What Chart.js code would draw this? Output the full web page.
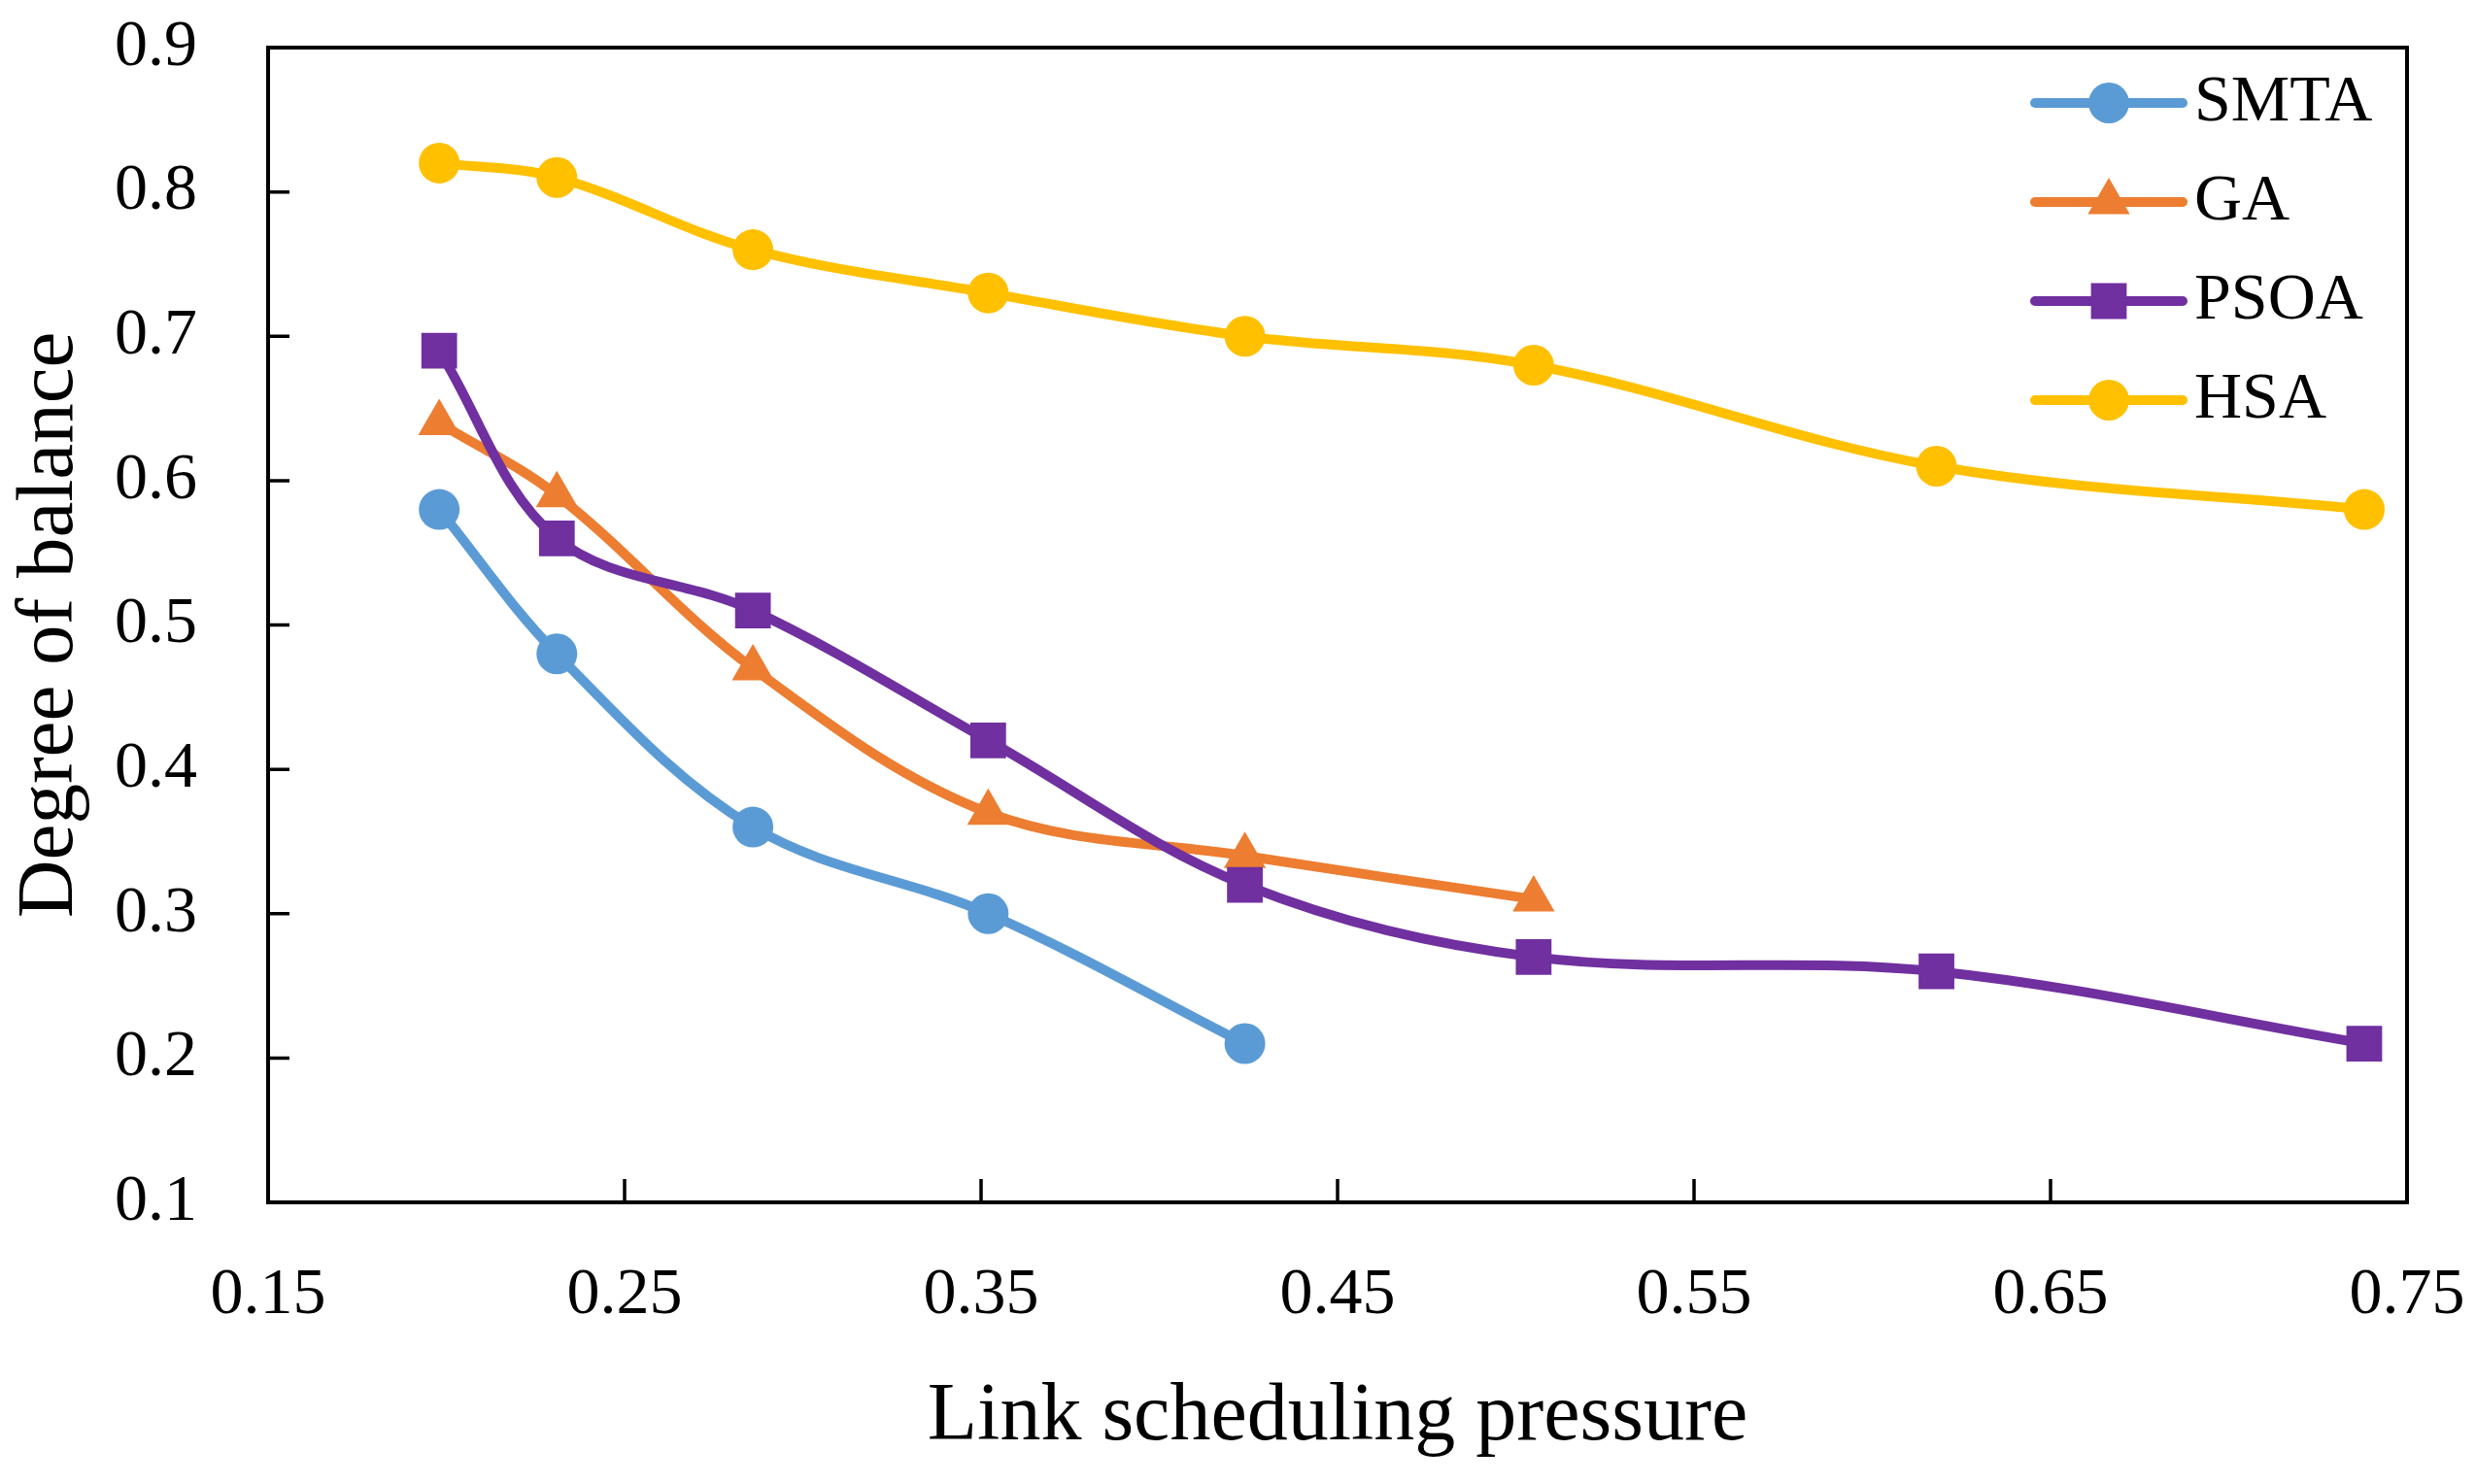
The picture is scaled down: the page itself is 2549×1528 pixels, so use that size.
<!DOCTYPE html>
<html>
<head>
<meta charset="utf-8">
<title>Degree of balance vs link scheduling pressure</title>
<script src="https://cdn.jsdelivr.net/npm/chart.js@4.4.1/dist/chart.umd.min.js"></script>
<style>
  html, body { margin: 0; padding: 0; background: #fff; }
  #wrap { width: 2549px; height: 1528px; }
</style>
</head>
<body>
<div id="wrap"><canvas id="balanceChart"></canvas></div>
<script>
// x positions shared by all series
const pressure = [0.198, 0.231, 0.286, 0.352, 0.424, 0.505, 0.618, 0.738];

const smta = [0.58, 0.48, 0.36, 0.30, 0.21];
const ga   = [0.64, 0.59, 0.47, 0.37, 0.34, 0.31];
const psoa = [0.69, 0.56, 0.51, 0.42, 0.32, 0.27, 0.26, 0.21];
const hsa  = [0.82, 0.81, 0.76, 0.73, 0.70, 0.68, 0.61, 0.58];

const xTickValues = [0.15, 0.25, 0.35, 0.45, 0.55, 0.65, 0.75];
const xTickLabels = ['0.15', '0.25', '0.35', '0.45', '0.55', '0.65', '0.75'];
const yTickValues = [0.1, 0.2, 0.3, 0.4, 0.5, 0.6, 0.7, 0.8, 0.9];
const yTickLabels = ['0.1', '0.2', '0.3', '0.4', '0.5', '0.6', '0.7', '0.8', '0.9'];

const FONT = "'Liberation Serif', 'DejaVu Serif', serif";

function points(vals) {
    return vals.map((v, i) => ({ x: pressure[i], y: v }));
}

function series(label, vals, color, style, radius, order) {
    return {
        label: label,
        data: points(vals),
        borderColor: color,
        backgroundColor: color,
        pointBackgroundColor: color,
        pointBorderColor: color,
        pointBorderWidth: 0,
        pointStyle: style,
        pointRadius: radius,
        pointHoverRadius: radius,
        borderWidth: 10,
        tension: 0.35,
        order: order
    };
}

function drawMarker(ctx, style, r, x, y) {
    ctx.beginPath();
    if (style === 'circle') {
        ctx.arc(x, y, r, 0, Math.PI * 2);
    } else if (style === 'rect') {
        const s = r * Math.SQRT1_2;
        ctx.rect(x - s, y - s, 2 * s, 2 * s);
    } else if (style === 'triangle') {
        for (let k = 0; k < 3; k++) {
            const a = k * 2 * Math.PI / 3;
            const px = x + Math.sin(a) * r, py = y - Math.cos(a) * r;
            if (k === 0) ctx.moveTo(px, py); else ctx.lineTo(px, py);
        }
        ctx.closePath();
    }
    ctx.fill();
}

// drop the extra room chart.js keeps for overflowing tick labels
function noLabelPadding(scale) {
    scale.paddingTop = 0;
    scale.paddingBottom = 0;
    scale.paddingLeft = 0;
    scale.paddingRight = 0;
}

// plot frame with inward tick marks
const framePlugin = {
    id: 'frame',
    beforeDatasetsDraw(chart) {
        const { ctx, chartArea: a, scales } = chart;
        ctx.save();
        ctx.strokeStyle = '#000';
        ctx.lineWidth = 4;
        ctx.strokeRect(a.left, a.top, a.right - a.left, a.bottom - a.top);
        ctx.lineWidth = 3.5;
        ctx.beginPath();
        xTickValues.forEach(v => {
            const px = scales.x.getPixelForValue(v);
            ctx.moveTo(px, a.bottom);
            ctx.lineTo(px, a.bottom - 24);
        });
        yTickValues.forEach(v => {
            const py = scales.y.getPixelForValue(v);
            ctx.moveTo(a.left, py);
            ctx.lineTo(a.left + 22, py);
        });
        ctx.stroke();
        ctx.restore();
    }
};

// legend with line + marker, inside the plot at top right
const legendPlugin = {
    id: 'lineLegend',
    afterDatasetsDraw(chart) {
        const { ctx, chartArea: a } = chart;
        ctx.save();
        chart.data.datasets.forEach((ds, i) => {
            const y = a.top + 57 + i * 102;
            const x0 = a.right - 383, x1 = a.right - 231;
            ctx.strokeStyle = ds.borderColor;
            ctx.fillStyle = ds.borderColor;
            ctx.lineWidth = 10;
            ctx.lineCap = 'round';
            ctx.beginPath();
            ctx.moveTo(x0, y);
            ctx.lineTo(x1, y);
            ctx.stroke();
            drawMarker(ctx, ds.pointStyle, ds.pointRadius, (x0 + x1) / 2, y);
            ctx.fillStyle = '#000';
            ctx.font = '68px ' + FONT;
            ctx.textAlign = 'left';
            ctx.textBaseline = 'middle';
            ctx.fillText(ds.label, a.right - 219, y);
        });
        ctx.restore();
    }
};

const ctx1 = document.getElementById('balanceChart').getContext('2d');
new Chart(ctx1, {
    type: 'line',
    data: {
        datasets: [
            series('SMTA', smta, '#5B9BD5', 'circle', 21, 4),
            series('GA', ga, '#ED7D31', 'triangle', 25, 3),
            series('PSOA', psoa, '#7030A0', 'rect', 26, 2),
            series('HSA', hsa, '#FFC000', 'circle', 21, 1)
        ]
    },
    options: {
        responsive: true,
        maintainAspectRatio: false,
        animation: false,
        layout: { padding: { top: 49, right: 71, left: 0, bottom: 0 } },
        plugins: {
            legend: { display: false },
            tooltip: { enabled: false }
        },
        scales: {
            x: {
                type: 'linear',
                min: 0.15,
                max: 0.75,
                afterBuildTicks(scale) {
                    scale.ticks = xTickValues.map(v => ({ value: v }));
                },
                afterFit(scale) {
                    scale.height = 290;
                    noLabelPadding(scale);
                },
                grid: { display: false, drawTicks: false },
                border: { display: false },
                ticks: {
                    color: '#000',
                    font: { family: FONT, size: 68 },
                    padding: 55,
                    maxRotation: 0,
                    autoSkip: false,
                    callback: (v, i) => xTickLabels[i]
                },
                title: {
                    display: true,
                    text: 'Link scheduling pressure',
                    color: '#000',
                    font: { family: FONT, size: 84 },
                    padding: { top: 0, bottom: 18 }
                }
            },
            y: {
                min: 0.1,
                max: 0.9,
                afterBuildTicks(scale) {
                    scale.ticks = yTickValues.map(v => ({ value: v }));
                },
                afterFit(scale) {
                    scale.width = 276;
                    noLabelPadding(scale);
                },
                grid: { display: false, drawTicks: false },
                border: { display: false },
                ticks: {
                    color: '#000',
                    font: { family: FONT, size: 68 },
                    padding: 73,
                    autoSkip: false,
                    callback: (v, i) => yTickLabels[i]
                },
                title: {
                    display: true,
                    text: 'Degree of balance',
                    color: '#000',
                    font: { family: FONT, size: 83 },
                    padding: { top: 2, bottom: 0 }
                }
            }
        }
    },
    plugins: [framePlugin, legendPlugin]
});
</script>
</body>
</html>
